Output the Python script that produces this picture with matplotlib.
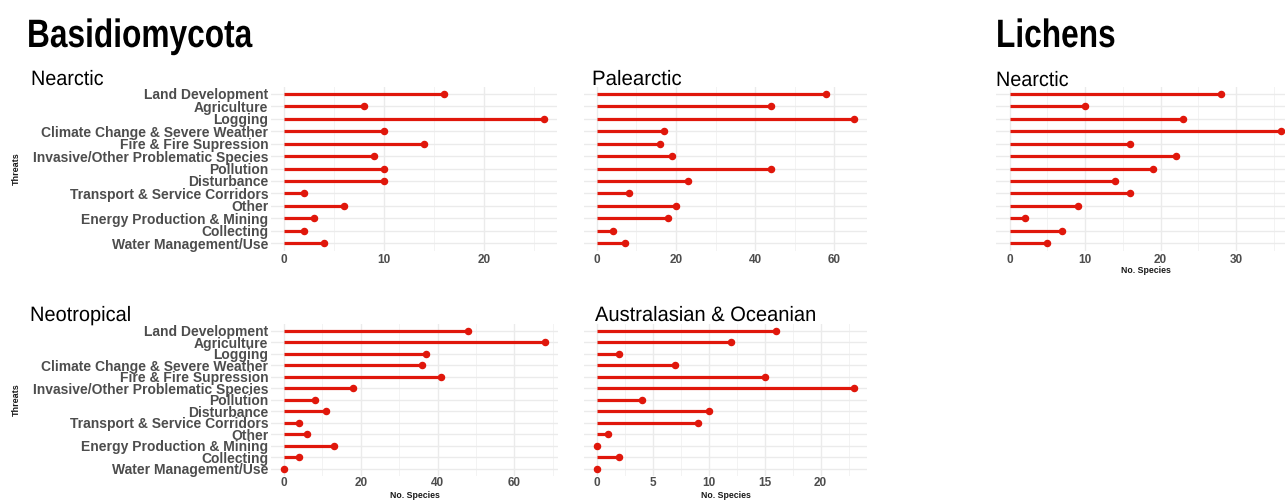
import matplotlib
matplotlib.use("Agg")
import matplotlib.pyplot as plt
from matplotlib.ticker import MultipleLocator
from matplotlib.patheffects import AbstractPathEffect
from matplotlib.transforms import Affine2D

threats = [
    "Land Development",
    "Agriculture",
    "Logging",
    "Climate Change & Severe Weather",
    "Fire & Fire Supression",
    "Invasive/Other Problematic Species",
    "Pollution",
    "Disturbance",
    "Transport & Service Corridors",
    "Other",
    "Energy Production & Mining",
    "Collecting",
    "Water Management/Use",
]

basidio_nearctic = [16, 8, 26, 10, 14, 9, 10, 10, 2, 6, 3, 2, 4]
basidio_palearctic = [58, 44, 65, 17, 16, 19, 44, 23, 8, 20, 18, 4, 7]
basidio_neotropical = [48, 68, 37, 36, 41, 18, 8, 11, 4, 6, 13, 4, 0]
basidio_australasian = [16, 12, 2, 7, 15, 23, 4, 10, 9, 1, 0, 2, 0]
lichens_nearctic = [28, 10, 23, 36, 16, 22, 19, 14, 16, 9, 2, 7, 5]

RED = "#e0170b"
GRID = "#ebebeb"
TICK = "#4d4d4d"
TITLE_FONT = ["Liberation Sans", "DejaVu Sans"]

plt.rcParams["font.family"] = ["Liberation Sans", "DejaVu Sans"]

W, H = 1285, 501
fig = plt.figure(figsize=(W / 100, H / 100), dpi=100)


class HSqueeze(AbstractPathEffect):
    """Draw text glyphs narrowed horizontally around a fixed left edge."""

    def __init__(self, x0, sx):
        super().__init__()
        self.x0 = x0
        self.sx = sx

    def draw_path(self, renderer, gc, tpath, affine, rgbFace=None):
        squeeze = Affine2D().translate(-self.x0, 0).scale(self.sx, 1).translate(self.x0, 0)
        renderer.draw_path(gc, tpath, affine + squeeze, rgbFace)


def px_axes(x0, x1, y0, y1):
    return fig.add_axes([x0 / W, 1 - y1 / H, (x1 - x0) / W, (y1 - y0) / H])


def lollipop(ax, values, major, ylabels=False, ylabel=False, xlabel_top=None, xpad=2.5):
    ypos = list(range(len(threats)))
    vmax = max(values)
    ax.set_xlim(-0.05 * vmax, 1.05 * vmax)
    ax.set_ylim(len(threats) - 1 + 0.6, -0.6)
    ax.xaxis.set_major_locator(MultipleLocator(major))
    ax.xaxis.set_minor_locator(MultipleLocator(major / 2))
    ax.grid(True, which="major", color=GRID, linewidth=1.0)
    ax.grid(True, which="minor", axis="x", color="#f3f3f3", linewidth=0.7)
    ax.set_yticks(ypos)
    ax.set_axisbelow(True)
    for s in ax.spines.values():
        s.set_visible(False)
    ax.tick_params(which="both", length=0)
    ax.tick_params(axis="x", pad=xpad, labelsize=8.5, labelcolor=TICK)
    for t in ax.get_xticklabels():
        t.set_fontweight("bold")
    if ylabels:
        ax.set_yticklabels(threats, fontsize=10, fontweight="bold", color=TICK)
        ax.tick_params(axis="y", pad=2)
    else:
        ax.set_yticklabels([])
    ax.hlines(ypos, 0, values, color=RED, linewidth=2.3, zorder=3)
    ax.plot(values, ypos, "o", color=RED, markersize=4.4, zorder=4)
    pos = ax.get_position()
    width_px = pos.width * W
    height_px = pos.height * H
    bottom_px = H - pos.y0 * H
    if ylabel:
        ax.set_ylabel("Threats", fontsize=6.5, fontweight="bold", color="#1a1a1a")
        ax.yaxis.set_label_coords((21 - pos.x0 * W) / width_px, 0.5)
    if xlabel_top is not None:
        ax.set_xlabel("No. Species", fontsize=6.3, fontweight="bold", color="#1a1a1a")
        ax.xaxis.set_label_coords(0.5, -(xlabel_top - bottom_px) / height_px)


ax1 = px_axes(271, 557, 86.5, 250.5)
lollipop(ax1, basidio_nearctic, 10, ylabels=True, ylabel=True)
ax2 = px_axes(584, 867, 86.5, 250.5)
lollipop(ax2, basidio_palearctic, 20)
ax3 = px_axes(996, 1295, 86.5, 250.5)
lollipop(ax3, lichens_nearctic, 10, xlabel_top=266)
ax4 = px_axes(271, 558, 323.6, 475.5)
lollipop(ax4, basidio_neotropical, 20, ylabels=True, ylabel=True, xlabel_top=491.2, xpad=1.2)
ax5 = px_axes(584, 867, 323.6, 475.5)
lollipop(ax5, basidio_australasian, 5, xlabel_top=491.2, xpad=1.2)


def fig_text(x, y, s, size, weight="normal", squeeze=1.0):
    fig.text(x / W, 1 - y / H, s, fontsize=size, fontweight=weight,
             family=TITLE_FONT, va="baseline", ha="left", color="black",
             path_effects=[HSqueeze(x, squeeze)])


fig_text(27, 47, "Basidiomycota", 28.5, "bold", 0.8)
fig_text(996, 47, "Lichens", 28.5, "bold", 0.8)
fig_text(31, 85, "Nearctic", 15, squeeze=0.95)
fig_text(592, 85, "Palearctic", 15, squeeze=0.98)
fig_text(996, 86, "Nearctic", 15, squeeze=0.95)
fig_text(30, 321, "Neotropical", 15, squeeze=0.96)
fig_text(595, 321, "Australasian & Oceanian", 15, squeeze=0.965)

fig.savefig("out.png", dpi=100)
